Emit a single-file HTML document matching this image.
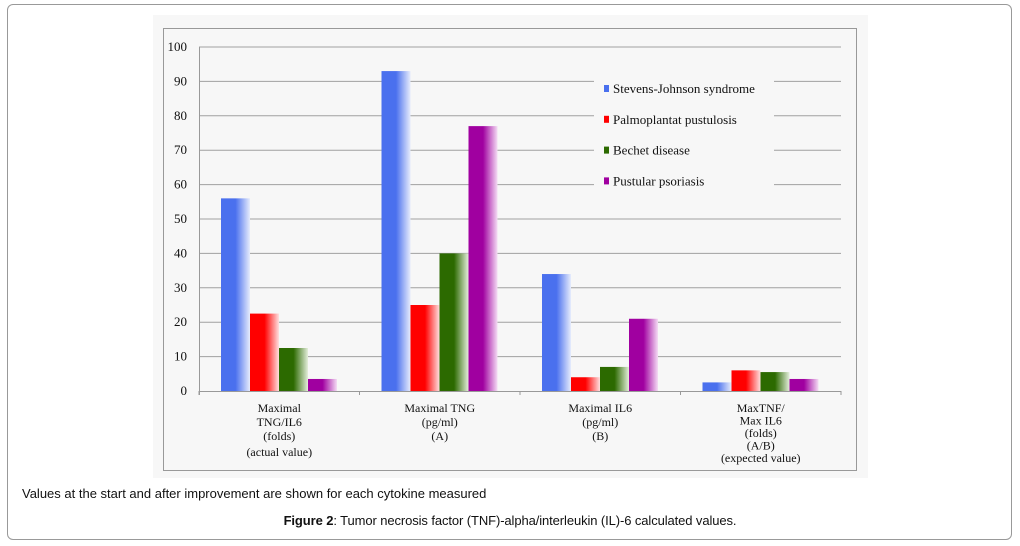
<!DOCTYPE html>
<html><head><meta charset="utf-8"><style>
html,body{margin:0;padding:0;background:#fff;}
body{width:1020px;height:546px;position:relative;overflow:hidden;font-family:"Liberation Sans",Arial,sans-serif;}
#frame{position:absolute;left:7px;top:4px;width:1005px;height:536px;border:1px solid #999;border-radius:6px;box-sizing:border-box;}
#note{position:absolute;left:22px;top:486px;font-size:13px;color:#111;}
#caption{position:absolute;left:0;width:1020px;top:513px;text-align:center;font-size:13px;color:#111;letter-spacing:-0.1px;}
svg text{font-family:"Liberation Serif","Times New Roman",serif;}
</style></head><body>
<div id="frame"></div>
<svg id="chart" width="1020" height="546" style="position:absolute;left:0;top:0">
<defs>
<linearGradient id="g0" x1="0" x2="1"><stop offset="0" stop-color="#4a70ee"/><stop offset="0.5" stop-color="#4a70ee"/><stop offset="1" stop-color="#e6ecfc"/></linearGradient>
<linearGradient id="g1" x1="0" x2="1"><stop offset="0" stop-color="#ff0000"/><stop offset="0.5" stop-color="#ff0000"/><stop offset="1" stop-color="#ffe0e0"/></linearGradient>
<linearGradient id="g2" x1="0" x2="1"><stop offset="0" stop-color="#2c6a00"/><stop offset="0.5" stop-color="#2c6a00"/><stop offset="1" stop-color="#e4eedc"/></linearGradient>
<linearGradient id="g3" x1="0" x2="1"><stop offset="0" stop-color="#a000a0"/><stop offset="0.5" stop-color="#a000a0"/><stop offset="1" stop-color="#f4dcf4"/></linearGradient>
</defs>
<rect x="153" y="15" width="715" height="463" fill="#f7f7f7"/>
<rect x="163.5" y="28.5" width="693" height="442" fill="none" stroke="#999" stroke-width="1"/>
<g id="grid"></g><g id="bars"></g><g id="axes"></g><g id="legend"></g>
</svg>
<div id="note">Values at the start and after improvement are shown for each cytokine measured</div>
<div id="caption"><b>Figure 2</b>: Tumor necrosis factor (TNF)-alpha/interleukin (IL)-6 calculated values.</div>
<script>
const categories=[["Maximal","TNG/IL6","(folds)","(actual value)"],["Maximal TNG","(pg/ml)","(A)"],["Maximal IL6","(pg/ml)","(B)"],["MaxTNF/","Max IL6","(folds)","(A/B)","(expected value)"]];
const seriesNames=["Stevens-Johnson syndrome","Palmoplantat pustulosis","Bechet disease","Pustular psoriasis"];
const sjs=[56,93,34,2.5];
const pp=[22.5,25,4,6];
const bd=[12.5,40,7,5.5];
const ps=[3.5,77,21,3.5];
const yTicks=[0,10,20,30,40,50,60,70,80,90,100];
const series=[sjs,pp,bd,ps];
const legendColors=["#4a70ee","#ff0000","#2c6a00","#a000a0"];
const NS="http://www.w3.org/2000/svg";
const X0=199,X1=841,Y0=391,Y1=47;
const y=v=>Y0-(v/100)*(Y0-Y1);
const gw=(X1-X0)/categories.length;
const bw=29;
function mk(t,a,p){const e=document.createElementNS(NS,t);for(const k in a)e.setAttribute(k,a[k]);p.appendChild(e);return e;}
const grid=document.getElementById('grid'),bars=document.getElementById('bars'),axes=document.getElementById('axes'),leg=document.getElementById('legend');
yTicks.forEach(v=>{
 if(v>0){const l=mk('line',{x1:X0,x2:X1,y1:y(v),y2:y(v),stroke:'#a0a0a0','stroke-width':1},grid);
 
 }
 const t=mk('text',{x:X0-12,y:y(v)+4,'text-anchor':'end','font-size':13,fill:'#111'},axes);t.textContent=v;
 
 
});
series.forEach((s,si)=>{s.forEach((v,ci)=>{
 const x=X0+ci*gw+22+si*bw;
 const r=mk('rect',{x:x,y:y(v),width:bw,height:Y0-y(v),fill:'url(#g'+si+')'},bars);
 
 
});});
const ax=mk('line',{x1:X0,x2:X1,y1:Y0+0.5,y2:Y0+0.5,stroke:'#999'},axes);


const ay=mk('line',{x1:X0+0.5,x2:X0+0.5,y1:Y1,y2:Y0+4,stroke:'#999'},axes);


for(let i=0;i<=categories.length;i++){const tk=mk('line',{x1:X0+i*gw,x2:X0+i*gw,y1:Y0,y2:Y0+4,stroke:'#999'},axes);
 
 }
categories.forEach((lines,ci)=>{
 const cx=X0+ci*gw+gw/2;
 const t=mk('text',{'text-anchor':'middle','font-size':12,fill:'#111'},axes);
 
 
 lines.forEach((ln,li)=>{const ts=mk('tspan',{x:cx,y:412+li*(ci==3?12.5:14)+(li==3&&ci==0?2:0)},t);ts.textContent=ln;});
});
mk('rect',{x:594,y:72,width:180,height:126,fill:'#f7f7f7'},leg);
seriesNames.forEach((n,i)=>{
 const yy=89+i*30.8;
 const m=mk('rect',{x:604,y:yy-4,width:5,height:7,fill:legendColors[i]},leg);
 
 
 const t=mk('text',{x:613,y:yy+4,'font-size':13,fill:'#111'},leg);t.textContent=n;
 
 
});
</script>
</body></html>
